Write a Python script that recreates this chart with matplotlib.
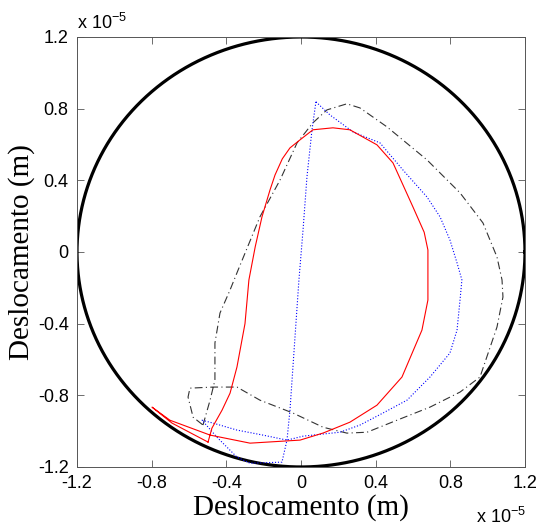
import numpy as np
import matplotlib.pyplot as plt

# valores em unidades de 1e-5 m
raio_folga = 1.2

red_x = [-0.498, -0.477, -0.423, -0.380, -0.343, -0.300, -0.279, -0.245, -0.209, -0.166,
         -0.139, -0.100, -0.059, -0.005, 0.064, 0.171, 0.262, 0.407, 0.493, 0.600,
         0.660, 0.680, 0.680, 0.648, 0.541, 0.407, 0.262, 0.120, -0.005, -0.273,
         -0.487, -0.702, -0.798, -0.691, -0.498]
red_y = [-1.061, -0.983, -0.883, -0.788, -0.642, -0.400, -0.156, 0.030, 0.196, 0.346,
         0.430, 0.520, 0.581, 0.626, 0.682, 0.693, 0.682, 0.598, 0.497, 0.251,
         0.110, 0.011, -0.268, -0.436, -0.698, -0.855, -0.950, -1.010, -1.050, -1.067,
         -1.022, -0.939, -0.866, -0.955, -1.061]

blue_x = [0.080, 0.059, 0.032, 0.011, -0.011, -0.021, -0.059, -0.075, -0.102, -0.273,
          -0.343, -0.450, -0.530, -0.471, -0.343, -0.204, -0.075, 0.011, 0.209, 0.316,
          0.439, 0.568, 0.691, 0.798, 0.836, 0.852, 0.862, 0.836, 0.798, 0.745,
          0.675, 0.546, 0.423, 0.279, 0.155, 0.080]
blue_y = [0.838, 0.682, 0.419, 0.123, -0.156, -0.307, -0.883, -1.050, -1.173, -1.179,
          -1.145, -1.034, -0.939, -0.955, -0.994, -1.022, -1.050, -1.028, -1.006, -0.966,
          -0.899, -0.827, -0.698, -0.564, -0.436, -0.268, -0.156, -0.061, 0.067, 0.196,
          0.307, 0.458, 0.609, 0.670, 0.765, 0.838]

black_x = [-0.525, -0.487, -0.461, -0.461, -0.434, -0.380, -0.337, -0.220, -0.112, -0.021,
           0.064, 0.139, 0.246, 0.316, 0.461, 0.675, 0.852, 0.975, 1.050, 1.077,
           1.082, 1.050, 0.959, 0.852, 0.691, 0.514, 0.354, 0.246, 0.118, -0.043,
           -0.220, -0.343, -0.471, -0.595, -0.605, -0.578, -0.525]
black_y = [-0.966, -0.827, -0.715, -0.508, -0.341, -0.212, -0.101, 0.196, 0.402, 0.609,
           0.721, 0.793, 0.827, 0.804, 0.698, 0.514, 0.330, 0.162, -0.028, -0.156,
           -0.251, -0.419, -0.698, -0.782, -0.866, -0.939, -1.006, -1.011, -0.978, -0.899,
           -0.827, -0.754, -0.754, -0.760, -0.810, -0.922, -0.966]

ticks = [-1.2, -0.8, -0.4, 0, 0.4, 0.8, 1.2]
tick_labels = ['-1.2', '-0.8', '-0.4', '0', '0.4', '0.8', '1.2']

fig = plt.figure(figsize=(5.38, 5.26), dpi=100)
ax = fig.add_axes([0.1431, 0.1122, 0.8327, 0.8175])

# circulo de folga
t = np.linspace(0, 2 * np.pi, 400)
ax.plot(raio_folga * np.cos(t), raio_folga * np.sin(t), color='black', lw=2.3)

ax.plot(black_x, black_y, color='#333333', lw=0.8, linestyle='-.', dashes=(7, 3, 1, 3))
ax.plot(blue_x, blue_y, color='blue', lw=0.8, linestyle=':')
ax.plot(red_x, red_y, color='red', lw=0.8)

ax.set_xlim(-1.2, 1.2)
ax.set_ylim(-1.2, 1.2)
ax.set_xticks(ticks)
ax.set_yticks(ticks)
ax.set_xticklabels(tick_labels, family='Liberation Sans', fontsize=13)
ax.set_yticklabels(tick_labels, family='Liberation Sans', fontsize=13)
ax.tick_params(direction='in', length=5, width=0.6, top=True, right=True, pad=6, color='#555555')
for s in ax.spines.values():
    s.set_linewidth(0.7)
    s.set_color('#555555')

ax.set_xlabel('Deslocamento (m)', family='Liberation Serif', fontsize=21, labelpad=1)
ax.set_ylabel('Deslocamento (m)', family='Liberation Serif', fontsize=21, labelpad=2)

fig.text(0.143, 0.945, r'x 10$^{\mathregular{-5}}$', family='Liberation Sans', fontsize=13)
fig.text(0.885, 0.005, r'x 10$^{\mathregular{-5}}$', family='Liberation Sans', fontsize=13)

fig.savefig('out.png', dpi=100)
